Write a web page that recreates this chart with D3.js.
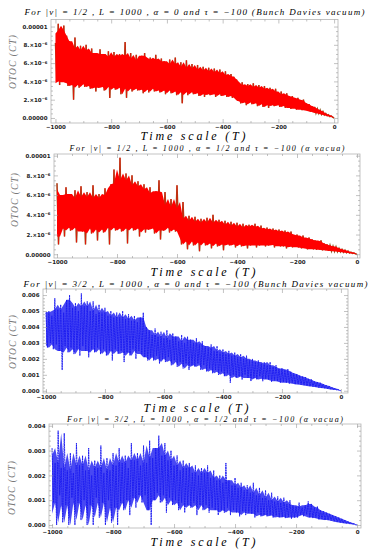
<!DOCTYPE html>
<html lang="en">
<head>
<meta charset="UTF-8">
<title>OTOC vs time scale</title>
<script src="https://d3js.org/d3.v7.min.js"></script>
<style>
    body, html { margin: 0; padding: 0; background: #fff; overflow: hidden; }
    svg { display: block; }
    .tick text { font-family: "DejaVu Sans", sans-serif; font-weight: bold; font-size: 5.5px; fill: #222; }
    .tick line { stroke: #9a9a9a; stroke-width: 0.6px; }
    .frame { fill: none; stroke: #b4b4b4; stroke-width: 0.8px; }
    .title, .xlabel, .ylabel { font-family: "Liberation Serif", "DejaVu Serif", serif; font-style: italic; }
    .ylabel { fill: #777; }
</style>
</head>
<body>
<script>
    // sample times (every 10 units), each one gives a peak then a trough
    const timeGrid = d3.range(-1000, 0, 10);

    // panel 1: |nu| = 1/2, alpha = 0   (values in 1e-6)
    const p1Peaks = [8.2,10.3,9.6,10.1,9.0, 8.4,7.6,8.8,7.2,7.9, 7.4,8.0,6.9,7.6,7.1, 6.8,7.5,7.0,6.6,7.3,
        6.7,7.2,6.4,7.0,6.8, 8.3,6.5,7.1,6.3,6.9, 6.2,6.8,7.1,6.0,6.6, 6.4,6.9,5.9,6.5,6.2,
        5.8,6.4,5.9,6.6,5.6, 6.1,5.5,6.3,5.4,5.9, 5.3,5.8,5.2,5.6,5.1, 5.5,5.0,5.4,4.9,5.3,
        4.7,5.1,4.6,4.8,4.5, 4.2,3.6,3.9,3.5,3.7, 3.4,3.8,3.3,3.6,3.2, 3.5,3.1,3.3,2.9,3.2,
        2.6,2.9,2.5,2.7,2.3, 2.4,2.1,2.2,1.9,2.0, 1.6,1.5,1.3,1.2,1.0, 0.85,0.7,0.5,0.35,0.2];
    const p1Troughs = [4.0,3.6,4.3,3.9,3.5, 3.8,2.0,3.6,3.3,3.7, 3.4,3.8,3.2,3.5,2.9, 3.3,3.6,3.0,3.4,2.2,
        3.5,3.1,3.3,2.6,3.4, 2.2,3.2,2.9,3.3,3.0, 3.2,2.7,3.1,2.8,3.3, 2.9,3.2,2.8,3.0,2.6,
        3.0,2.7,3.1,2.5,2.9, 1.6,2.8,2.5,2.9,2.6, 2.8,2.4,2.7,2.3,2.6, 2.5,2.7,2.3,2.6,2.4,
        2.6,2.3,2.5,2.2,2.4, 1.9,1.6,1.8,1.4,1.7, 1.5,1.7,1.3,1.6,1.2, 1.5,1.1,1.4,1.3,1.6,
        1.2,1.4,1.1,1.3,1.0, 1.1,0.9,1.0,0.85,0.9, 0.8,0.7,0.65,0.55,0.5, 0.4,0.33,0.25,0.15,0.08];

    // panel 2: |nu| = 1/2, alpha = 1/2   (values in 1e-6)
    const p2Peaks = [7.2,6.0,5.6,6.8,6.1, 5.7,6.5,5.5,6.9,5.8, 6.3,5.4,7.0,5.7,6.1, 5.6,6.7,6.0,7.1,8.6,
        7.2,9.8,7.5,8.2,7.0, 8.0,6.9,7.4,6.6,7.1, 6.2,6.8,5.9,6.4,7.5, 5.0,6.3,4.8,5.6,4.7,
        7.0,3.6,5.3,3.4,3.9, 3.3,3.8,3.1,3.6,3.2, 3.7,3.0,4.0,3.2,3.5, 3.0,3.4,2.9,3.3,2.8,
        3.2,2.7,3.1,2.6,3.0, 2.8,3.1,2.6,2.9,2.5, 2.7,2.4,2.6,2.3,2.5, 2.2,2.4,2.1,2.3,1.9,
        2.0,1.7,1.9,1.6,1.7, 1.5,1.4,1.3,1.4,1.1, 1.0,0.9,0.8,0.75,0.6, 0.5,0.42,0.33,0.22,0.12];
    const p2Troughs = [1.0,2.6,1.8,2.9,2.4, 2.7,1.2,2.8,2.3,1.0, 2.6,2.1,2.8,1.4,2.5, 2.2,2.9,1.0,2.7,2.4,
        2.8,2.3,2.6,1.1,2.9, 2.4,2.7,1.8,2.6,2.2, 2.5,2.8,2.1,2.6,1.5, 2.4,2.9,2.2,2.7,2.3,
        2.5,1.0,1.6,0.5,1.3, 0.9,1.5,0.3,1.2,0.9, 1.3,0.6,1.1,0.8,1.2, 0.4,1.0,0.9,1.2,0.7,
        1.0,0.8,1.1,0.6,0.9, 1.0,0.7,0.9,1.1,0.8, 0.9,1.0,0.7,0.95,0.8, 0.8,0.6,0.85,0.7,0.75,
        0.7,0.6,0.65,0.5,0.55, 0.5,0.45,0.5,0.4,0.42, 0.35,0.33,0.3,0.27,0.24, 0.2,0.16,0.12,0.08,0.04];

    // panel 3: |nu| = 3/2, alpha = 0   (values in 1e-3)
    const p3Peaks = [4.9,5.0,4.7,5.8,5.1, 5.4,4.9,5.7,6.0,5.2, 5.5,5.0,6.1,5.3,5.6, 5.0,5.6,4.8,5.4,4.9,
        5.2,4.7,5.0,4.6,4.9, 4.6,5.0,4.5,4.8,4.4, 4.7,4.3,4.6,4.9,4.0, 3.8,3.5,3.9,3.4,3.7,
        3.3,3.8,3.2,3.6,3.4, 3.1,3.5,3.0,3.4,3.2, 3.0,3.3,2.9,3.1,2.8, 2.7,2.9,2.5,2.8,2.4,
        2.6,2.3,2.5,2.2,2.4, 2.1,2.3,2.0,2.2,1.9, 2.0,1.8,1.9,1.7,1.8, 1.6,1.8,1.5,1.6,1.4,
        1.4,1.3,1.35,1.2,1.1, 1.05,0.95,0.9,0.85,0.75, 0.7,0.6,0.55,0.5,0.42, 0.35,0.3,0.22,0.15,0.08];
    const p3Troughs = [2.7,3.0,2.6,2.9,2.5, 1.3,2.8,2.4,2.7,2.3, 2.6,2.2,2.8,2.5,2.1, 2.6,2.4,2.7,2.3,2.6,
        2.2,2.5,1.9,2.6,2.3, 2.5,1.8,2.4,2.2,2.6, 2.0,2.5,2.3,2.1,1.9, 2.1,1.9,2.2,1.7,2.0,
        1.8,2.1,1.6,1.9,1.5, 1.8,1.4,1.7,1.3,1.6, 1.5,1.7,1.3,1.6,1.2, 1.4,1.1,1.3,1.0,1.2,
        0.9,1.1,0.5,1.0,0.8, 0.9,0.7,1.0,0.8,0.6, 0.8,0.7,0.9,0.6,0.75, 0.7,0.55,0.65,0.6,0.5,
        0.55,0.5,0.45,0.5,0.4, 0.42,0.38,0.35,0.32,0.28, 0.26,0.24,0.2,0.18,0.15, 0.12,0.1,0.07,0.05,0.02];

    // panel 4: |nu| = 3/2, alpha = 1/2   (values in 1e-3)
    const p4Peaks = [3.1,2.5,3.8,2.3,3.7, 2.2,2.9,2.1,3.3,2.4, 2.8,2.2,3.1,2.0,2.6, 2.3,3.2,2.1,2.7,2.2,
        2.9,2.4,3.1,2.5,2.8, 2.3,3.3,2.6,2.9,2.4, 3.2,2.5,3.4,2.7,3.1, 3.6,2.8,3.3,2.6,3.0,
        2.4,2.8,2.2,2.6,2.3, 2.5,2.1,2.4,2.0,2.3, 2.1,2.4,1.9,2.2,1.8, 2.0,1.7,2.5,1.8,1.6,
        1.9,1.5,1.7,1.4,1.6, 1.3,1.7,1.2,1.5,1.1, 1.4,1.0,1.3,0.95,1.15, 0.9,1.1,0.85,1.0,0.8,
        0.75,0.9,0.7,0.8,0.95, 0.85,0.7,0.75,0.6,0.55, 0.5,0.45,0.4,0.35,0.3, 0.25,0.2,0.15,0.1,0.05];
    const p4Troughs = [0.9,0.0,1.2,0.1,0.8, 0.0,1.1,0.0,0.9,0.2, 1.0,0.0,0.8,0.0,1.1, 0.3,0.9,0.0,1.0,0.1,
        0.7,0.0,0.9,0.6,1.0, 0.4,1.1,0.7,1.2,0.9, 1.2,0.6,0.0,1.0,1.3, 0.9,1.2,0.5,1.1,0.8,
        1.0,0.6,0.9,0.5,0.8, 0.7,0.9,0.4,0.8,0.6, 0.8,0.5,0.7,0.6,0.4, 0.6,0.5,0.7,0.4,0.6,
        0.5,0.35,0.55,0.4,0.5, 0.45,0.3,0.5,0.35,0.4, 0.35,0.4,0.3,0.38,0.3, 0.32,0.28,0.33,0.25,0.3,
        0.3,0.4,0.35,0.42,0.3, 0.28,0.3,0.22,0.25,0.2, 0.2,0.18,0.15,0.12,0.1, 0.08,0.06,0.05,0.03,0.01];

    const titles = [
        "For |ν| = 1/2 , L = 1000 , α = 0 and τ = −100 (Bunch Davies vacuum)",
        "For |ν| = 1/2 , L = 1000 , α = 1/2 and τ = −100 (α vacua)",
        "For |ν| = 3/2 , L = 1000 , α = 0 and τ = −100 (Bunch Davies vacuum)",
        "For |ν| = 3/2 , L = 1000 , α = 1/2 and τ = −100 (α vacua)"
    ];

    const xTicks = [-1000, -800, -600, -400, -200, 0];
    const xTickLabels = ["−1000", "−800", "−600", "−400", "−200", "0"];
    const redTicks = [0, 2, 4, 6, 8, 10];
    const redTickLabels = [["0.00000"], ["2.×10", "−6"], ["4.×10", "−6"], ["6.×10", "−6"], ["8.×10", "−6"], ["0.00001"]];
    const blueTicks1 = [0, 1, 2, 3, 4, 5, 6];
    const blueTickLabels1 = ["0.000", "0.001", "0.002", "0.003", "0.004", "0.005", "0.006"].map(s => [s]);
    const blueTicks2 = [0, 1, 2, 3, 4];
    const blueTickLabels2 = ["0.000", "0.001", "0.002", "0.003", "0.004"].map(s => [s]);

    const panels = [
        { peaks: p1Peaks, troughs: p1Troughs, color: 'red', left: 51, right: 338, top: 19.5, bottom: 123,
          xDomain: [-1016, 14], yDomain: [-0.55, 10.77], yTicks: redTicks, yLabels: redTickLabels, yMinor: 0.5,
          titleY: 14.5, titleW: 340, titleSize: 9, yLabelY: 62, yLabelX: 16, xLabelY: 140, xLabelX: 193 },
        { peaks: p2Peaks, troughs: p2Troughs, color: 'red', left: 54, right: 360, top: 154, bottom: 258,
          xDomain: [-1010, 10], yDomain: [-0.38, 10.17], yTicks: redTicks, yLabels: redTickLabels, yMinor: 0.5,
          titleY: 150.5, titleW: 275, titleSize: 8, yLabelY: 200, yLabelX: 18, xLabelY: 276, xLabelX: 203 },
        { peaks: p3Peaks, troughs: p3Troughs, color: 'blue', left: 43, right: 348, top: 289, bottom: 393,
          xDomain: [-1010, 24], yDomain: [-0.14, 6.38], yTicks: blueTicks1, yLabels: blueTickLabels1, yMinor: 0.2,
          titleY: 286.5, titleW: 344, titleSize: 9, yLabelY: 342, yLabelX: 16, xLabelY: 411.5, xLabelX: 196 },
        { peaks: p4Peaks, troughs: p4Troughs, color: 'blue', left: 49, right: 361, top: 424, bottom: 528,
          xDomain: [-1010, 13], yDomain: [-0.12, 4.07], yTicks: blueTicks2, yLabels: blueTickLabels2, yMinor: 0.2,
          titleY: 421.5, titleW: 276, titleSize: 8, yLabelY: 488, yLabelX: 15, xLabelY: 546, xLabelX: 203 }
    ];

    const svg = d3.select('body').append('svg')
        .attr('width', 370)
        .attr('height', 550);

    panels.forEach((p, k) => {
        const x = d3.scaleLinear().domain(p.xDomain).range([p.left, p.right]);
        const y = d3.scaleLinear().domain(p.yDomain).range([p.bottom, p.top]);
        const g = svg.append('g');
        const n = timeGrid.length;

        // peak, trough, peak, trough ... then the curve ends at 0 for T = 0
        const pts = [];
        timeGrid.forEach((t, i) => {
            pts.push([t, p.peaks[i]]);
            pts.push([t + 5, p.troughs[i]]);
        });
        pts.push([0, 0]);

        // dense core of the oscillation: median of neighbouring peaks / troughs
        const core = timeGrid.map((t, i) => {
            const w = [i - 1, i, i + 1].filter(j => j >= 0 && j < n);
            return [t, d3.median(w, j => p.troughs[j]), d3.median(w, j => p.peaks[j])];
        });
        core.push([0, 0, 0]);

        const clipId = 'clip' + k;
        svg.append('clipPath').attr('id', clipId)
            .append('rect')
            .attr('x', p.left).attr('y', p.top)
            .attr('width', p.right - p.left).attr('height', p.bottom - p.top);

        const line = d3.line().x(d => x(d[0])).y(d => y(d[1]));
        const area = d3.area().x(d => x(d[0])).y0(d => y(d[1])).y1(d => y(d[2]));
        const plot = g.append('g').attr('clip-path', `url(#${clipId})`);

        if (p.color === 'red') {
            // brown underneath shows only where the spikes leave the red core
            plot.append('path').datum(pts)
                .attr('d', line)
                .attr('fill', 'none')
                .attr('stroke', '#8a5a22')
                .attr('stroke-width', 1.5);
            plot.append('path').datum(core)
                .attr('d', area)
                .attr('fill', '#ff0000');
            plot.append('path').datum(pts)
                .attr('d', line)
                .attr('fill', 'none')
                .attr('stroke', '#ff0000')
                .attr('stroke-width', 0.5);
        } else {
            plot.append('path').datum(core)
                .attr('d', area)
                .attr('fill', '#1a1af0')
                .attr('fill-opacity', 0.8);
            plot.append('path').datum(pts)
                .attr('d', line)
                .attr('fill', 'none')
                .attr('stroke', '#1a1af0')
                .attr('stroke-width', 0.9)
                .attr('stroke-dasharray', '2,0.5');
        }

        // frame + inward ticks on all four sides
        g.append('rect').attr('class', 'frame')
            .attr('x', p.left).attr('y', p.top)
            .attr('width', p.right - p.left).attr('height', p.bottom - p.top);

        const xMinor = d3.range(-1000, 1, 50).filter(v => !xTicks.includes(v));
        const yMax = p.yTicks[p.yTicks.length - 1];
        const yMinor = d3.range(0, yMax + p.yMinor / 2, p.yMinor).filter(v => !p.yTicks.some(t => Math.abs(t - v) < 1e-9));

        const bottomAxis = g.append('g')
            .attr('transform', `translate(0,${p.bottom})`)
            .call(d3.axisBottom(x).tickValues(xTicks).tickSize(-4).tickPadding(2.5)
                .tickFormat((d, i) => xTickLabels[i]));
        bottomAxis.selectAll('text').attr('dy', '0.71em');
        g.append('g').attr('transform', `translate(0,${p.bottom})`)
            .call(d3.axisBottom(x).tickValues(xMinor).tickSize(-2).tickFormat(''));
        g.append('g').attr('transform', `translate(0,${p.top})`)
            .call(d3.axisTop(x).tickValues(xTicks).tickSize(-4).tickFormat(''));
        g.append('g').attr('transform', `translate(0,${p.top})`)
            .call(d3.axisTop(x).tickValues(xMinor).tickSize(-2).tickFormat(''));

        const leftAxis = g.append('g')
            .attr('transform', `translate(${p.left},0)`)
            .call(d3.axisLeft(y).tickValues(p.yTicks).tickSize(-4).tickPadding(3.5).tickFormat(''));
        leftAxis.selectAll('.tick text').each(function(d, i) {
            const parts = p.yLabels[i];
            const t = d3.select(this).text(parts[0]);
            if (parts[1]) {
                t.append('tspan').attr('dy', '-0.45em').attr('font-size', '3.8px').text(parts[1]);
            }
        });
        g.append('g').attr('transform', `translate(${p.left},0)`)
            .call(d3.axisLeft(y).tickValues(yMinor).tickSize(-2).tickFormat(''));
        g.append('g').attr('transform', `translate(${p.right},0)`)
            .call(d3.axisRight(y).tickValues(p.yTicks).tickSize(-4).tickFormat(''));
        g.append('g').attr('transform', `translate(${p.right},0)`)
            .call(d3.axisRight(y).tickValues(yMinor).tickSize(-2).tickFormat(''));

        g.selectAll('.domain').remove();

        // title, axis labels
        g.append('text').attr('class', 'title')
            .attr('x', (p.left + p.right) / 2).attr('y', p.titleY)
            .attr('text-anchor', 'middle')
            .attr('font-size', p.titleSize)
            .attr('textLength', p.titleW)
            .attr('lengthAdjust', 'spacing')
            .text(titles[k]);

        g.append('text').attr('class', 'ylabel')
            .attr('transform', `translate(${p.yLabelX},${p.yLabelY}) rotate(-90)`)
            .attr('text-anchor', 'middle')
            .attr('font-size', 9.5)
            .attr('textLength', 54)
            .attr('lengthAdjust', 'spacing')
            .text('OTOC (CT)');

        g.append('text').attr('class', 'xlabel')
            .attr('x', p.xLabelX).attr('y', p.xLabelY)
            .attr('text-anchor', 'middle')
            .attr('font-size', 12)
            .attr('textLength', 105)
            .attr('lengthAdjust', 'spacing')
            .text('Time scale  (T)');
    });
</script>
</body>
</html>
